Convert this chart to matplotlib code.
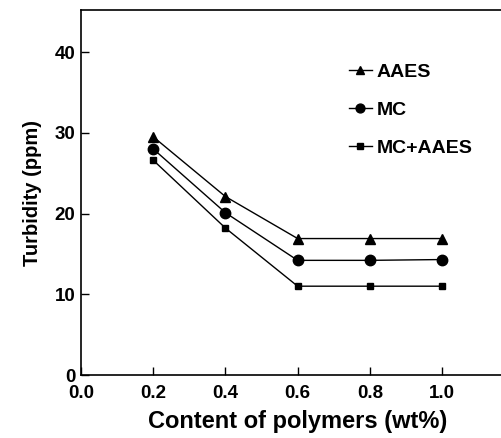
import matplotlib
matplotlib.use('Agg')
import matplotlib.pyplot as plt

plt.rcParams['font.family'] = ['Liberation Sans', 'DejaVu Sans']
plt.rcParams['font.weight'] = 'bold'

content = [0.2, 0.4, 0.6, 0.8, 1.0]
aaes = [29.5, 22.1, 16.9, 16.9, 16.9]
mc = [28.0, 20.1, 14.2, 14.2, 14.3]
mc_aaes = [26.6, 18.2, 11.0, 11.0, 11.0]

fig = plt.figure(figsize=(5.02, 4.38), dpi=100)
ax = fig.add_axes([0.1614, 0.1438, 0.863, 0.8333])

ax.plot(content, aaes, color='k', lw=1, marker='^', ms=7, label='AAES')
ax.plot(content, mc, color='k', lw=1, marker='o', ms=7.5, label='MC')
ax.plot(content, mc_aaes, color='k', lw=1, marker='s', ms=4.5, label='MC+AAES')

ax.set_xlim(0, 1.2)
ax.set_ylim(0, 45.2)
ax.set_xticks([0.0, 0.2, 0.4, 0.6, 0.8, 1.0])
ax.set_xticklabels(['0.0', '0.2', '0.4', '0.6', '0.8', '1.0'])
ax.set_yticks([0, 10, 20, 30, 40])
ax.tick_params(direction='in', length=6, width=1, labelsize=13.5)
ax.tick_params(axis='x', pad=7)
ax.tick_params(axis='y', pad=4)
ax.spines['right'].set_visible(False)
for s in ['left', 'bottom', 'top']:
    ax.spines[s].set_linewidth(1.2)

ax.set_xlabel('Content of polymers (wt%)', fontsize=17, fontweight='bold', labelpad=6)
ax.set_ylabel('Turbidity (ppm)', fontsize=14.5, fontweight='bold', labelpad=9)

leg = ax.legend(loc='upper left', bbox_to_anchor=(0.6, 0.875), frameon=False,
                fontsize=14, handlelength=1.2, handletextpad=0.25, labelspacing=1.05,
                markerscale=0.85, borderaxespad=0)

fig.savefig('out.png', dpi=100)
